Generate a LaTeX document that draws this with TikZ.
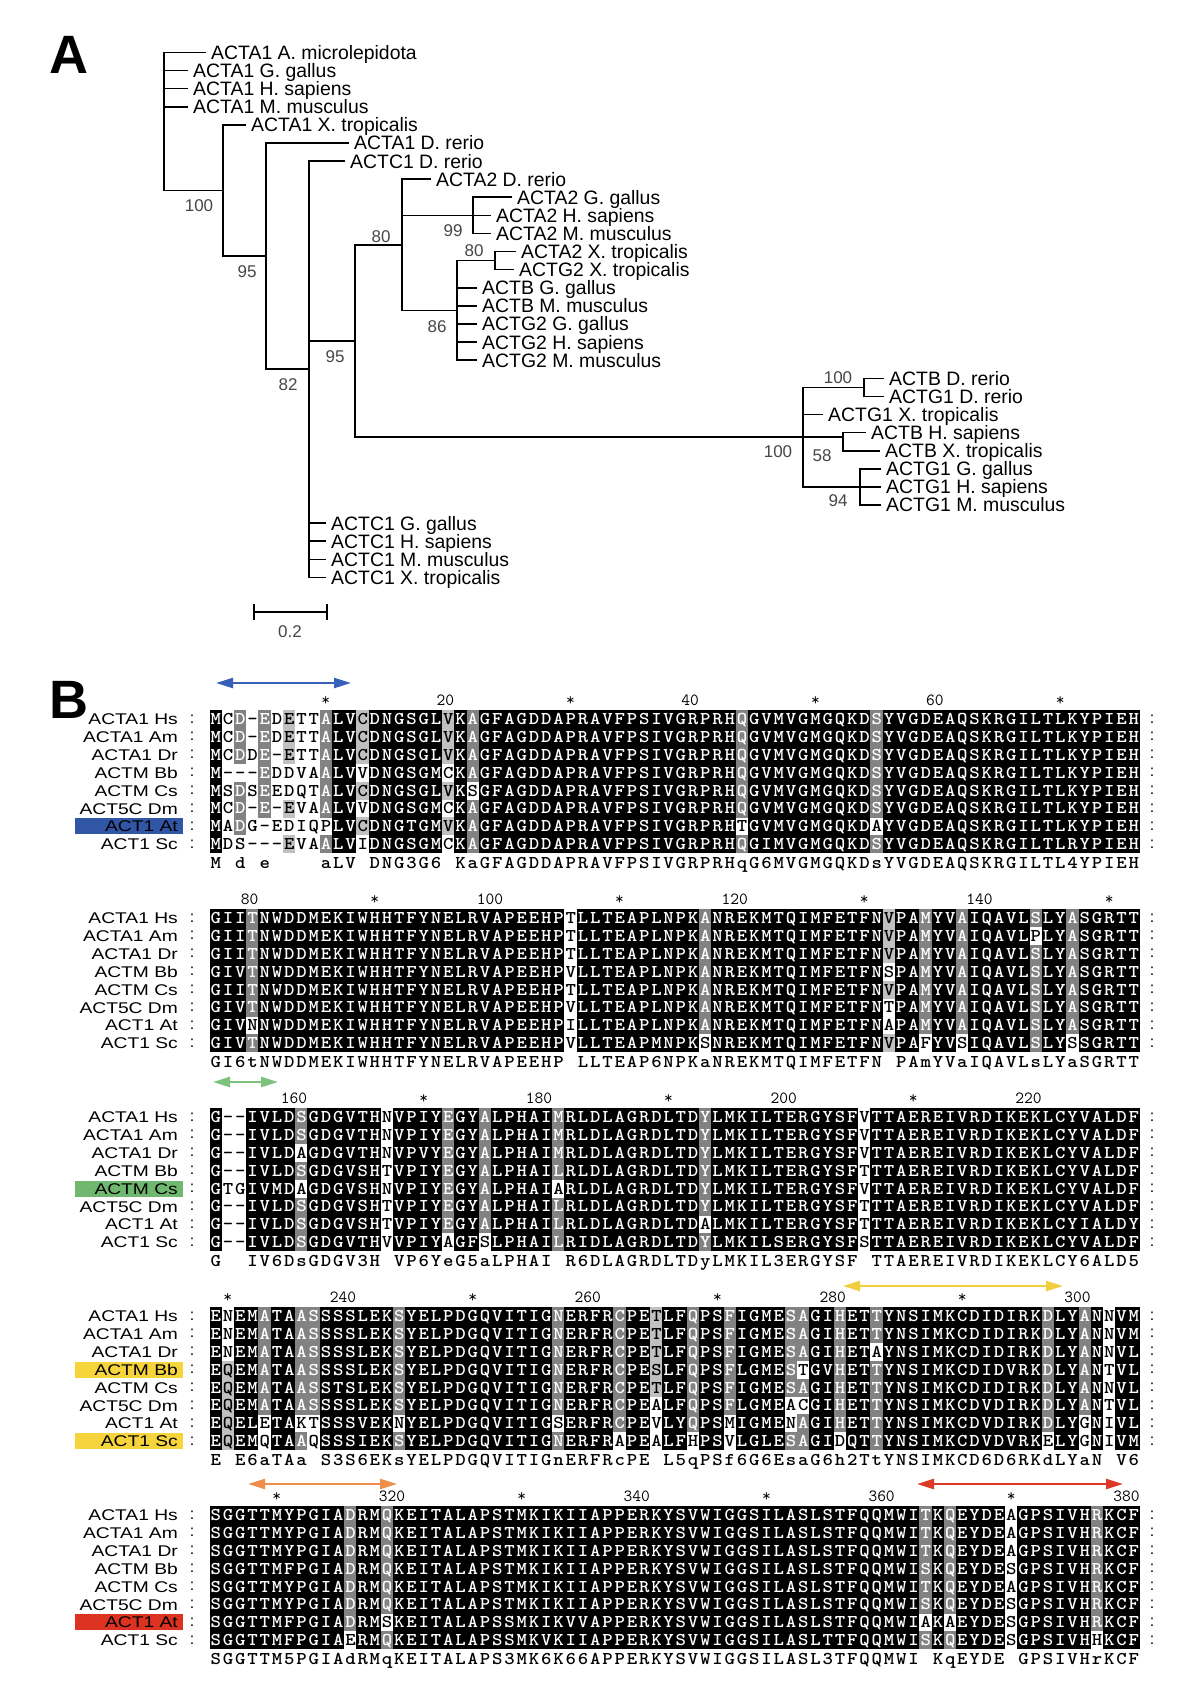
\documentclass[tikz,border=0pt]{standalone}
\usepackage{fontspec}
\setmainfont{Liberation Sans}
\usetikzlibrary{arrows.meta}

\definecolor{shdark}{RGB}{130,130,130}
\definecolor{shlight}{RGB}{192,192,192}
\definecolor{hlblue}{RGB}{50,86,166}
\definecolor{hlgreen}{RGB}{112,184,112}
\definecolor{hlyellow}{RGB}{246,212,60}
\definecolor{hlred}{RGB}{220,50,34}
\definecolor{arblue}{RGB}{56,96,186}
\definecolor{argreen}{RGB}{124,194,124}
\definecolor{aryellow}{RGB}{242,206,62}
\definecolor{arorange}{RGB}{238,142,74}
\definecolor{arred}{RGB}{222,56,38}

\tikzset{
  rowtext/.style={anchor=base west, inner sep=0pt, font=\ttfamily\bfseries\fontsize{18}{18}\selectfont},
  shadek/.style={fill=black},
  shaded/.style={fill=shdark},
  shadel/.style={fill=shlight},
  leaf/.style={anchor=west, inner xsep=6pt, inner ysep=0pt, font=\fontsize{19.4}{19.4}\selectfont,
    text height=13.9pt, text depth=0pt},
  boot/.style={inner sep=0pt, font=\fontsize{17}{17}\selectfont, text=black!72,
    text height=12.2pt, text depth=0pt},
  branch/.style={line width=1.6pt, line cap=rect},
  seqlab/.style={anchor=east, inner sep=0pt, font=\fontsize{15.5}{15.5}\selectfont,
    text height=11.1pt, text depth=0pt},
  colon/.style={inner sep=0pt, font=\fontsize{16}{16}\selectfont, text height=8pt, text depth=0pt},
  hlbox/.style={rectangle, inner sep=0pt, minimum width=108pt, minimum height=16pt},
  hdr/.style={inner sep=0pt, font=\ttfamily\fontsize{17}{17}\selectfont, text height=10.4pt, text depth=0pt},
  panel/.style={inner sep=0pt, font=\bfseries\fontsize{54}{54}\selectfont, text height=38.7pt, text depth=0pt},
  motif/.style={line width=2.4pt, arrows={Triangle[length=17pt,width=10pt]-Triangle[length=17pt,width=10pt]}}
}

\newcommand\colx{209.5}
\newcommand\colw{12.24}
% one residue: text colour, char code (width = colw/1.1)
\newcommand\alc[2]{\makebox[11.127pt]{\color{#1}\char#2}}
\newcommand\alblank{\makebox[11.127pt]{}}
% background run: first col, last col, y, shade
\newcommand\shaderun[4]{\path[shade#4] ({\colx+(#1-1)*\colw},#3-9) rectangle ({\colx+#2*\colw},#3+9);}
% text of a row
\newcommand\rowtext[3]{\node[rowtext] (#1) at (\colx,#2+5.4) {\scalebox{1.1}[1]{#3}};}

\ExplSyntaxOn
\int_new:N \l__aln_col_int
\int_new:N \l__aln_code_int
\int_new:N \l__aln_start_int
\tl_new:N \l__aln_mode_tl
\tl_new:N \l__aln_run_tl
\tl_new:N \l__aln_text_tl
\cs_new_protected:Npn \__aln_flush:nn #1 #2
  {
    \tl_if_empty:NF \l__aln_run_tl
      {
        \str_if_eq:VnF \l__aln_run_tl { w }
          {
            \use:e
              {
                \exp_not:N \shaderun
                  { \int_use:N \l__aln_start_int } { #1 } { #2 } { \l__aln_run_tl }
              }
          }
      }
  }
% + dark grey, = light grey, lower case white, rest black
\NewDocumentCommand \seqrow { m m m }
  {
    \int_zero:N \l__aln_col_int
    \tl_clear:N \l__aln_run_tl
    \tl_clear:N \l__aln_text_tl
    \tl_set:Nn \l__aln_mode_tl { k }
    \str_map_inline:nn { #3 }
      {
        \str_case:nnF { ##1 }
          {
            { + } { \tl_set:Nn \l__aln_mode_tl { d } }
            { = } { \tl_set:Nn \l__aln_mode_tl { l } }
          }
          {
            \int_incr:N \l__aln_col_int
            \int_set:Nn \l__aln_code_int { `##1 }
            \int_compare:nNnT { \l__aln_code_int } > { 96 }
              {
                \tl_set:Nn \l__aln_mode_tl { w }
                \int_sub:Nn \l__aln_code_int { 32 }
              }
            \int_compare:nNnT { \l__aln_code_int } = { 45 }
              { \tl_set:Nn \l__aln_mode_tl { w } }
            \tl_if_eq:NNF \l__aln_mode_tl \l__aln_run_tl
              {
                \__aln_flush:nn { \int_eval:n { \l__aln_col_int - 1 } } { #2 }
                \int_set_eq:NN \l__aln_start_int \l__aln_col_int
                \tl_set_eq:NN \l__aln_run_tl \l__aln_mode_tl
              }
            \str_case:VnF \l__aln_mode_tl
              {
                { l } { \tl_put_right:Nx \l__aln_text_tl { \exp_not:N \alc { black } { \int_use:N \l__aln_code_int } } }
                { w } { \tl_put_right:Nx \l__aln_text_tl { \exp_not:N \alc { black } { \int_use:N \l__aln_code_int } } }
              }
              { \tl_put_right:Nx \l__aln_text_tl { \exp_not:N \alc { white } { \int_use:N \l__aln_code_int } } }
            \tl_set:Nn \l__aln_mode_tl { k }
          }
      }
    \__aln_flush:nn { \int_use:N \l__aln_col_int } { #2 }
    \use:e { \exp_not:N \rowtext { #1 } { #2 } { \exp_not:V \l__aln_text_tl } }
  }
% consensus line, / is a blank
\NewDocumentCommand \conrow { m m m }
  {
    \tl_clear:N \l__aln_text_tl
    \str_map_inline:nn { #3 }
      {
        \str_if_eq:nnTF { ##1 } { / }
          { \tl_put_right:Nn \l__aln_text_tl { \alblank } }
          { \tl_put_right:Nx \l__aln_text_tl { \exp_not:N \alc { black } { \int_eval:n { `##1 } } } }
      }
    \use:e { \exp_not:N \rowtext { #1 } { #2 } { \exp_not:V \l__aln_text_tl } }
  }
\ExplSyntaxOff

% species labels and colons of one block
\newcommand\rowlabels[2]{%
  \foreach \r/\lab in {1/ACTA1 Hs,2/ACTA1 Am,3/ACTA1 Dr,4/ACTM Bb,5/ACTM Cs,6/ACT5C Dm,7/ACT1 At,8/ACT1 Sc}{
    \pgfmathsetmacro\ry{#2+(\r-1)*17.9}
    \node[seqlab] (#1lab\r) at (178,\ry) {\scalebox{1.24}[1]{\lab}};
    \node[colon] (#1cl\r) at (192,\ry) {:};
    \node[colon] (#1cr\r) at (1152,\ry) {:};
  }}

\begin{document}
\begin{tikzpicture}[x=1pt,y=-1pt]
\useasboundingbox[fill=white] (0,0) rectangle (1185,1693);

\node[panel] (pA) at (68.5,54) {A};
\node[panel] (pB) at (68.5,699) {B};

% ---- tree ----
\coordinate (root) at (164,190.5);
\coordinate (n2) at (223,190.5);
\coordinate (n3) at (266,256.1);
\coordinate (n4) at (309,369.25);
\coordinate (n5) at (355,340.95);
\coordinate (n6) at (402,244.8);
\coordinate (n7) at (473,215.4);
\coordinate (n8) at (457,310.4);
\coordinate (n9) at (495,260.65);
\coordinate (r) at (803,437.1);
\coordinate (r1) at (864,387.35);
\coordinate (r2) at (843,437.1);
\coordinate (r3) at (860,486.9);

\foreach \i/\lx/\lab in {0/205/ACTA1 A. microlepidota, 1/187/ACTA1 G. gallus, 2/187/ACTA1 H. sapiens,
  3/187/ACTA1 M. musculus, 4/245/ACTA1 X. tropicalis, 5/348/ACTA1 D. rerio, 6/344/ACTC1 D. rerio,
  7/430/ACTA2 D. rerio, 8/511/ACTA2 G. gallus, 9/490/ACTA2 H. sapiens, 10/490/ACTA2 M. musculus,
  11/515/ACTA2 X. tropicalis, 12/513/ACTG2 X. tropicalis, 13/476/ACTB G. gallus, 14/476/ACTB M. musculus,
  15/476/ACTG2 G. gallus, 16/476/ACTG2 H. sapiens, 17/476/ACTG2 M. musculus, 18/883/ACTB D. rerio,
  19/883/ACTG1 D. rerio, 20/822/ACTG1 X. tropicalis, 21/865/ACTB H. sapiens, 22/879/ACTB X. tropicalis,
  23/880/ACTG1 G. gallus, 24/880/ACTG1 H. sapiens, 25/880/ACTG1 M. musculus, 26/325/ACTC1 G. gallus,
  27/325/ACTC1 H. sapiens, 28/325/ACTC1 M. musculus, 29/325/ACTC1 X. tropicalis}
  \node[leaf] (l\i) at (\lx,{52.5+18.1*\i}) {\lab};

\draw[branch] (root |- l0) -- (root);
\foreach \c in {l0,l1,l2,l3} \draw[branch] (root |- \c) -- (\c.west);
\draw[branch] (root) -- (n2);
\draw[branch] (n2 |- l4) -- (n2 |- n3);
\draw[branch] (n2 |- l4) -- (l4.west);
\draw[branch] (n2 |- n3) -- (n3);
\draw[branch] (n3 |- l5) -- (n3 |- n4);
\draw[branch] (n3 |- l5) -- (l5.west);
\draw[branch] (n3 |- n4) -- (n4);
\draw[branch] (n4 |- l6) -- (n4 |- l29);
\foreach \c in {l6,l26,l27,l28,l29} \draw[branch] (n4 |- \c) -- (\c.west);
\draw[branch] (n4 |- n5) -- (n5);
\draw[branch] (n5 |- n6) -- (n5 |- r);
\draw[branch] (n5 |- n6) -- (n6);
\draw[branch] (n5 |- r) -- (r);
\draw[branch] (n6 |- l7) -- (n6 |- n8);
\draw[branch] (n6 |- l7) -- (l7.west);
\draw[branch] (n6 |- n7) -- (n7);
\draw[branch] (n6 |- n8) -- (n8);
\draw[branch] (n7 |- l8) -- (n7 |- l10);
\foreach \c in {l8,l9,l10} \draw[branch] (n7 |- \c) -- (\c.west);
\draw[branch] (n8 |- n9) -- (n8 |- l17);
\draw[branch] (n8 |- n9) -- (n9);
\foreach \c in {l13,l14,l15,l16,l17} \draw[branch] (n8 |- \c) -- (\c.west);
\draw[branch] (n9 |- l11) -- (n9 |- l12);
\foreach \c in {l11,l12} \draw[branch] (n9 |- \c) -- (\c.west);
\draw[branch] (r |- r1) -- (r |- r3);
\draw[branch] (r |- r1) -- (r1);
\draw[branch] (r |- l20) -- (l20.west);
\draw[branch] (r |- r2) -- (r2);
\draw[branch] (r |- r3) -- (r3);
\draw[branch] (r1 |- l18) -- (r1 |- l19);
\foreach \c in {l18,l19} \draw[branch] (r1 |- \c) -- (\c.west);
\draw[branch] (r2 |- l21) -- (r2 |- l22);
\foreach \c in {l21,l22} \draw[branch] (r2 |- \c) -- (\c.west);
\draw[branch] (r3 |- l23) -- (r3 |- l25);
\foreach \c in {l23,l24,l25} \draw[branch] (r3 |- \c) -- (\c.west);

% bootstrap values
\node[boot] (b1) at (199,205) {100};
\node[boot] (b2) at (247,271) {95};
\node[boot] (b3) at (288,384) {82};
\node[boot] (b4) at (335,356) {95};
\node[boot] (b5) at (381,236) {80};
\node[boot] (b6) at (453,230) {99};
\node[boot] (b7) at (437,326) {86};
\node[boot] (b8) at (474,250) {80};
\node[boot] (b9) at (778,451) {100};
\node[boot] (b10) at (838,377) {100};
\node[boot] (b11) at (822,455) {58};
\node[boot] (b12) at (838,500) {94};

% scale bar
\coordinate (s1) at (254,612);
\coordinate (s2) at (327,612);
\draw[branch] (s1) -- (s2);
\draw[branch] ([yshift=7pt]s1) -- ([yshift=-7pt]s1);
\draw[branch] ([yshift=7pt]s2) -- ([yshift=-7pt]s2);
\node[boot] (sbl) at (290,631) {0.2};

% ---- alignment ----
% ruler
\foreach \b in {0,...,4}{
  \pgfmathsetmacro\hy{700+199*\b}
  \foreach \k in {1,...,76}{
    \pgfmathtruncatemacro\pos{76*\b+\k}
    \pgfmathtruncatemacro\rt{mod(\pos,10)}
    \ifnum\rt=0
      \pgfmathtruncatemacro\rw{mod(\pos,20)}
      \ifnum\rw=0
        \node[hdr,anchor=east] (h\pos) at ({\colx+\k*\colw},\hy) {\pos};
      \else
        \node[hdr] (h\pos) at ({\colx+(\k-0.5)*\colw},\hy) {*};
      \fi
    \fi
  }
}

% highlighted species
\node[hlbox, fill=hlblue] (hl1) at (129,826.4) {};
\node[hlbox, fill=hlgreen] (hl2) at (129,1188.6) {};
\node[hlbox, fill=hlyellow] (hl3) at (129,1369.7) {};
\node[hlbox, fill=hlyellow] (hl4) at (129,1441.3) {};
\node[hlbox, fill=hlred] (hl5) at (129,1622.4) {};

\rowlabels{b1}{719}
\rowlabels{b2}{918}
\rowlabels{b3}{1117}
\rowlabels{b4}{1316}
\rowlabels{b5}{1515}

% block 1
\seqrow{b1r1}{719}{Mc+D-+Ed=Ett+ALV=CDNGSGL=VK+AGFAGDDAPRAVFPSIVGRPRH+QGVMVGMGQKD+SYVGDEAQSKRGILTLKYPIEH}
\seqrow{b1r2}{736.9}{Mc+D-+Ed=Ett+ALV=CDNGSGL=VK+AGFAGDDAPRAVFPSIVGRPRH+QGVMVGMGQKD+SYVGDEAQSKRGILTLKYPIEH}
\seqrow{b1r3}{754.8}{Mc+Dd+E-=Ett+ALV=CDNGSGL=VK+AGFAGDDAPRAVFPSIVGRPRH+QGVMVGMGQKD+SYVGDEAQSKRGILTLKYPIEH}
\seqrow{b1r4}{772.7}{M---+Eddva+ALVvDNGSGMcK+AGFAGDDAPRAVFPSIVGRPRH+QGVMVGMGQKD+SYVGDEAQSKRGILTLKYPIEH}
\seqrow{b1r5}{790.6}{Ms+Ds+Eedqt+ALV=CDNGSGL=VKsGFAGDDAPRAVFPSIVGRPRH+QGVMVGMGQKD+SYVGDEAQSKRGILTLKYPIEH}
\seqrow{b1r6}{808.5}{Mc+D-+E-=Eva+ALVvDNGSGMcK+AGFAGDDAPRAVFPSIVGRPRH+QGVMVGMGQKD+SYVGDEAQSKRGILTLKYPIEH}
\seqrow{b1r7}{826.4}{Ma+Dg-ediqpLV=CDNGTGM=VK+AGFAGDDAPRAVFPSIVGRPRHtGVMVGMGQKDaYVGDEAQSKRGILTLKYPIEH}
\seqrow{b1r8}{844.3}{Mds---=Eva+ALViDNGSGMcK+AGFAGDDAPRAVFPSIVGRPRH+QGIMVGMGQKD+SYVGDEAQSKRGILTLRYPIEH}
\conrow{b1c}{863}{M/d/e////aLV/DNG3G6/KaGFAGDDAPRAVFPSIVGRPRHqG6MVGMGQKDsYVGDEAQSKRGILTL4YPIEH}

% block 2
\seqrow{b2r1}{918}{GII+TNWDDMEKIWHHTFYNELRVAPEEHPtLLTEAPLNPK+ANREKMTQIMFETFN=VPA+MYV+AIQAVL+SLY+ASGRTT}
\seqrow{b2r2}{935.9}{GII+TNWDDMEKIWHHTFYNELRVAPEEHPtLLTEAPLNPK+ANREKMTQIMFETFN=VPA+MYV+AIQAVLpLY+ASGRTT}
\seqrow{b2r3}{953.8}{GII+TNWDDMEKIWHHTFYNELRVAPEEHPtLLTEAPLNPK+ANREKMTQIMFETFN=VPA+MYV+AIQAVL+SLY+ASGRTT}
\seqrow{b2r4}{971.7}{GIV+TNWDDMEKIWHHTFYNELRVAPEEHPvLLTEAPLNPK+ANREKMTQIMFETFNsPA+MYV+AIQAVL+SLY+ASGRTT}
\seqrow{b2r5}{989.6}{GII+TNWDDMEKIWHHTFYNELRVAPEEHPtLLTEAPLNPK+ANREKMTQIMFETFN=VPA+MYV+AIQAVL+SLY+ASGRTT}
\seqrow{b2r6}{1007.5}{GIV+TNWDDMEKIWHHTFYNELRVAPEEHPvLLTEAPLNPK+ANREKMTQIMFETFNtPA+MYV+AIQAVL+SLY+ASGRTT}
\seqrow{b2r7}{1025.4}{GIVnNWDDMEKIWHHTFYNELRVAPEEHPiLLTEAPLNPK+ANREKMTQIMFETFNaPA+MYV+AIQAVL+SLY+ASGRTT}
\seqrow{b2r8}{1043.3}{GIV+TNWDDMEKIWHHTFYNELRVAPEEHPvLLTEAPMNPKsNREKMTQIMFETFN=VPAfYVsIQAVL+SLYsSGRTT}
\conrow{b2c}{1062}{GI6tNWDDMEKIWHHTFYNELRVAPEEHP/LLTEAP6NPKaNREKMTQIMFETFN/PAmYVaIQAVLsLYaSGRTT}

% block 3
\seqrow{b3r1}{1117}{G--IVLD+SGDGVTHnVPIY+EGY+ALPHAI+MRLDLAGRDLTD+YLMKILTERGYSFvTTAEREIVRDIKEKLCYVALDF}
\seqrow{b3r2}{1134.9}{G--IVLD+SGDGVTHnVPIY+EGY+ALPHAI+MRLDLAGRDLTD+YLMKILTERGYSFvTTAEREIVRDIKEKLCYVALDF}
\seqrow{b3r3}{1152.8}{G--IVLDaGDGVTHnVPVY+EGY+ALPHAI+MRLDLAGRDLTD+YLMKILTERGYSFvTTAEREIVRDIKEKLCYVALDF}
\seqrow{b3r4}{1170.7}{G--IVLD+SGDGVSHtVPIY+EGY+ALPHAI+LRLDLAGRDLTD+YLMKILTERGYSFtTTAEREIVRDIKEKLCYVALDF}
\seqrow{b3r5}{1188.6}{GtgIVMDaGDGVSHnVPIY+EGY+ALPHAIaRLDLAGRDLTD+YLMKILTERGYSFvTTAEREIVRDIKEKLCYVALDF}
\seqrow{b3r6}{1206.5}{G--IVLD+SGDGVSHtVPIY+EGY+ALPHAI+LRLDLAGRDLTD+YLMKILTERGYSFtTTAEREIVRDIKEKLCYVALDF}
\seqrow{b3r7}{1224.4}{G--IVLD+SGDGVSHtVPIY+EGY+ALPHAI+LRLDLAGRDLTDaLMKILTERGYSFtTTAEREIVRDIKEKLCYIALDY}
\seqrow{b3r8}{1242.3}{G--IVLD+SGDGVTHvVPIYaGFsLPHAI+LRIDLAGRDLTD+YLMKILSERGYSFsTTAEREIVRDIKEKLCYVALDF}
\conrow{b3c}{1261}{G//IV6DsGDGV3H/VP6YeG5aLPHAI/R6DLAGRDLTDyLMKIL3ERGYSF/TTAEREIVRDIKEKLCY6ALD5}

% block 4
\seqrow{b4r1}{1316}{EnEM+ATA+A+SSSSLEK+SYELPDGQVITIG+NERFR+CPE=TLF+QPS+FIGME+S+AGI+HET+TYNSIMKCDIDIRK+DLY+ANnVM}
\seqrow{b4r2}{1333.9}{EnEM+ATA+A+SSSSLEK+SYELPDGQVITIG+NERFR+CPE=TLF+QPS+FIGME+S+AGI+HET+TYNSIMKCDIDIRK+DLY+ANnVM}
\seqrow{b4r3}{1351.8}{EnEM+ATA+A+SSSSLEK+SYELPDGQVITIG+NERFR+CPE=TLF+QPS+FIGME+S+AGI+HETaYNSIMKCDIDIRK+DLY+ANnVL}
\seqrow{b4r4}{1369.7}{E=QEM+ATA+A+SSSSLEK+SYELPDGQVITIG+NERFR+CPE=SLF+QPS+FLGME+StGV+HET+TYNSIMKCDIDVRK+DLY+ANtVL}
\seqrow{b4r5}{1387.6}{E=QEM+ATA+A+SSTSLEK+SYELPDGQVITIG+NERFR+CPE=TLF+QPS+FIGME+S+AGI+HET+TYNSIMKCDIDIRK+DLY+ANnVL}
\seqrow{b4r6}{1405.5}{E=QEM+ATA+A+SSSSLEK+SYELPDGQVITIG+NERFR+CPEaLF+QPS+FLGMEacGI+HET+TYNSIMKCDVDIRK+DLY+ANtVL}
\seqrow{b4r7}{1423.4}{E=QELeTAktSSSVEKnYELPDGQVITIGsERFR+CPEvLY+QPSmIGMEn+AGI+HET+TYNSIMKCDVDIRK+DLYgNiVL}
\seqrow{b4r8}{1441.3}{E=QEMqTA+AqSSSIEK+SYELPDGQVITIG+NERFRaPEaLFhPSvLGLE+S+AGIdQT+TYNSIMKCDVDVRKeLYgNiVM}
\conrow{b4c}{1460}{E/E6aTAa/S3S6EKsYELPDGQVITIGnERFRcPE/L5qPSf6G6EsaG6h2TtYNSIMKCD6D6RKdLYaN/V6}

% block 5
\seqrow{b5r1}{1515}{SGGTTMYPGIA+DRM+QKEITALAPSTMKIKIIAPPERKYSVWIGGSILASLSTFQQMWI+TK+QEYDEaGPSIVH+RKCF}
\seqrow{b5r2}{1532.9}{SGGTTMYPGIA+DRM+QKEITALAPSTMKIKIIAPPERKYSVWIGGSILASLSTFQQMWI+TK+QEYDEaGPSIVH+RKCF}
\seqrow{b5r3}{1550.8}{SGGTTMYPGIA+DRM+QKEITALAPSTMKIKIIAPPERKYSVWIGGSILASLSTFQQMWI+TK+QEYDEaGPSIVH+RKCF}
\seqrow{b5r4}{1568.7}{SGGTTMFPGIA+DRM+QKEITALAPSTMKIKIIAPPERKYSVWIGGSILASLSTFQQMWI+SK+QEYDEsGPSIVH+RKCF}
\seqrow{b5r5}{1586.6}{SGGTTMYPGIA+DRM+QKEITALAPSTMKIKIIAPPERKYSVWIGGSILASLSTFQQMWI+TK+QEYDEaGPSIVH+RKCF}
\seqrow{b5r6}{1604.5}{SGGTTMYPGIA+DRM+QKEITALAPSTMKIKIIAPPERKYSVWIGGSILASLSTFQQMWI+SK+QEYDEsGPSIVH+RKCF}
\seqrow{b5r7}{1622.4}{SGGTTMFPGIA+DRMsKEITALAPSSMKIKVVAPPERKYSVWIGGSILASLSTFQQMWIaKaEYDEsGPSIVH+RKCF}
\seqrow{b5r8}{1640.3}{SGGTTMFPGIAeRM+QKEITALAPSSMKVKIIAPPERKYSVWIGGSILASLTTFQQMWI+SK+QEYDEsGPSIVHhKCF}
\conrow{b5c}{1659}{SGGTTM5PGIAdRMqKEITALAPS3MK6K66APPERKYSVWIGGSILASL3TFQQMWI/KqEYDE/GPSIVHrKCF}

% motif arrows
\coordinate (ma1) at (216,683); \coordinate (ma2) at (351,683);
\coordinate (mg1) at (213,1082); \coordinate (mg2) at (278,1082);
\coordinate (my1) at (843,1286); \coordinate (my2) at (1063,1286);
\coordinate (mo1) at (248,1484); \coordinate (mo2) at (397,1484);
\coordinate (mr1) at (917,1484); \coordinate (mr2) at (1123,1484);
\draw[motif, arblue] (ma1) -- (ma2);
\draw[motif, argreen] (mg1) -- (mg2);
\draw[motif, aryellow] (my1) -- (my2);
\draw[motif, arorange] (mo1) -- (mo2);
\draw[motif, arred] (mr1) -- (mr2);
\end{tikzpicture}
\end{document}
